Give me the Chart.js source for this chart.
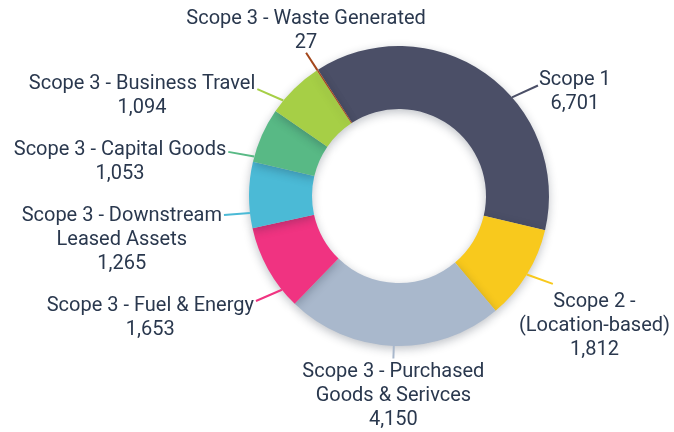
<!DOCTYPE html>
<html><head><meta charset="utf-8">
<script src="https://cdn.jsdelivr.net/npm/chart.js@4"></script>
<style>html,body{margin:0;padding:0;background:#fff;}#wrap{width:674px;height:432px;}</style>
</head><body><div id="wrap"><canvas id="c" width="674" height="432"></canvas></div>
<script>
const categories = [
  ["Scope 1"],
  ["Scope 2 -", "(Location-based)"],
  ["Scope 3 - Purchased", "Goods & Serivces"],
  ["Scope 3 - Fuel & Energy"],
  ["Scope 3 - Downstream", "Leased Assets"],
  ["Scope 3 - Capital Goods"],
  ["Scope 3 - Business Travel"],
  ["Scope 3 - Waste Generated"]
];
const emissions = [6701, 1812, 4150, 1653, 1265, 1053, 1094, 27];
const sliceColors = ["#4b4f67", "#f8c91d", "#a9b8cc", "#f03381", "#4bbad6", "#58b985", "#a6cf46", "#a3461b"];

const TEXT_COLOR = "#2a384e";
const FONT_SIZE = 20;
const LINE_H = 24;
const SIDE_ZONE = 0.75;

const shadowPlugin = {
  id: 'sliceShadow',
  beforeDatasetDraw(chart) {
    const ctx = chart.ctx;
    ctx.save();
    ctx.shadowColor = 'rgba(25,35,55,0.28)';
    ctx.shadowBlur = 10;
    ctx.shadowOffsetY = 3;
  },
  afterDatasetDraw(chart) {
    chart.ctx.restore();
  }
};

function allowedRange(s, e, mid) {
  const m = Math.min(0.035, (e - s) / 2);
  const a = s + m, b = e - m;
  const samples = [];
  if (b - a < 1e-6) samples.push(mid);
  else for (let k = 0; k <= 300; k++) samples.push(a + (b - a) * k / 300);
  const side = samples.filter(t => Math.abs(Math.cos(t)) >= SIDE_ZONE);
  if (!side.length) return { ang: mid, lo: a, hi: b };
  const best = side.reduce((p, t) => Math.abs(t - mid) < Math.abs(p - mid) ? t : p);
  const sg = Math.sign(Math.cos(best));
  const run = side.filter(t => Math.sign(Math.cos(t)) === sg);
  return { ang: best, lo: Math.min(...run), hi: Math.max(...run) };
}

const labelPlugin = {
  id: 'outLabels',
  afterDatasetsDraw(chart) {
    const ctx = chart.ctx;
    const meta = chart.getDatasetMeta(0);
    const ds = chart.data.datasets[0];
    const W = chart.width, H = chart.height;
    ctx.save();
    ctx.font = FONT_SIZE + 'px Roboto';
    const items = meta.data.map((arc, i) => {
      const p = arc.getProps(['x', 'y', 'startAngle', 'endAngle', 'outerRadius'], true);
      const lines = [...chart.data.labels[i], ds.data[i].toLocaleString('en-US')];
      const w = Math.max(...lines.map(t => ctx.measureText(t).width));
      const mid = (p.startAngle + p.endAngle) / 2;
      const r = allowedRange(p.startAngle, p.endAngle, mid);
      return { cx: p.x, cy: p.y, R: p.outerRadius, ang: r.ang, lo: r.lo, hi: r.hi,
               lines, w, h: lines.length * LINE_H, color: ds.backgroundColor[i] };
    });
    const place = it => {
      it.ang = Math.min(it.hi, Math.max(it.lo, it.ang));
      const ux = Math.cos(it.ang), uy = Math.sin(it.ang);
      const side = Math.abs(ux) >= SIDE_ZONE - 0.01;
      it.x0 = it.cx + it.R * ux; it.y0 = it.cy + it.R * uy;
      if (side) {
        it.x1 = it.x0 + Math.sign(ux) * 26; it.y1 = it.y0 + uy * 18;
        it.left = ux > 0 ? it.x1 + 1 : it.x1 - 2 - it.w;
        it.top = it.y1 - LINE_H / 2 + uy * 8;
        const cl = Math.max(2, Math.min(W - 4 - it.w, it.left));
        if (cl !== it.left && cl < it.x1 && cl + it.w > it.x1) {
          it.top = uy >= 0 ? it.y1 + 6 : it.y1 - 6 - it.h;
        }
        it.left = cl;
      } else {
        const L = 12 + 16 * Math.abs(ux);
        it.x1 = it.cx + (it.R + L) * ux; it.y1 = it.cy + (it.R + L) * uy;
        it.left = it.x1 - it.w / 2;
        it.top = uy < 0 ? it.y1 + 2 - it.h : it.y1 + 4;
      }
      it.left = Math.max(2, Math.min(W - 4 - it.w, it.left));
      it.top = Math.max(0, Math.min(H - it.h, it.top));
    };
    items.forEach(place);
    const overlap = (a, b) => a.left < b.left + b.w + 6 && b.left < a.left + a.w + 6 &&
                              a.top < b.top + b.h + 18 && b.top < a.top + a.h + 18;
    for (let k = 0; k < 1500; k++) {
      let moved = false;
      for (let a = 0; a < items.length; a++) for (let b = a + 1; b < items.length; b++) {
        const A = items[a], B = items[b];
        if (overlap(A, B)) {
          let d = B.ang - A.ang; d = Math.atan2(Math.sin(d), Math.cos(d));
          const s = d >= 0 ? 1 : -1, st = 0.002;
          A.ang -= s * st; B.ang += s * st;
          place(A); place(B); moved = true;
        }
      }
      if (!moved) break;
    }
    ctx.lineWidth = 2;
    items.forEach(it => {
      ctx.strokeStyle = it.color;
      ctx.beginPath(); ctx.moveTo(it.x0, it.y0); ctx.lineTo(it.x1, it.y1); ctx.stroke();
    });
    ctx.fillStyle = TEXT_COLOR;
    ctx.textAlign = 'center';
    ctx.textBaseline = 'middle';
    items.forEach(it => {
      it.lines.forEach((t, j) => ctx.fillText(t, it.left + it.w / 2, it.top + LINE_H / 2 + j * LINE_H));
    });
    ctx.restore();
  }
};

new Chart(document.getElementById('c'), {
  type: 'doughnut',
  data: {
    labels: categories,
    datasets: [{ data: emissions, backgroundColor: sliceColors, borderWidth: 0, hoverOffset: 0 }]
  },
  options: {
    responsive: false,
    animation: false,
    devicePixelRatio: 1,
    events: [],
    rotation: -32.7,
    radius: 150,
    cutout: 87,
    layout: { padding: { left: 249, right: 125, top: 46, bottom: 86 } },
    plugins: { legend: { display: false }, tooltip: { enabled: false } }
  },
  plugins: [shadowPlugin, labelPlugin]
});
</script>
</body></html>
